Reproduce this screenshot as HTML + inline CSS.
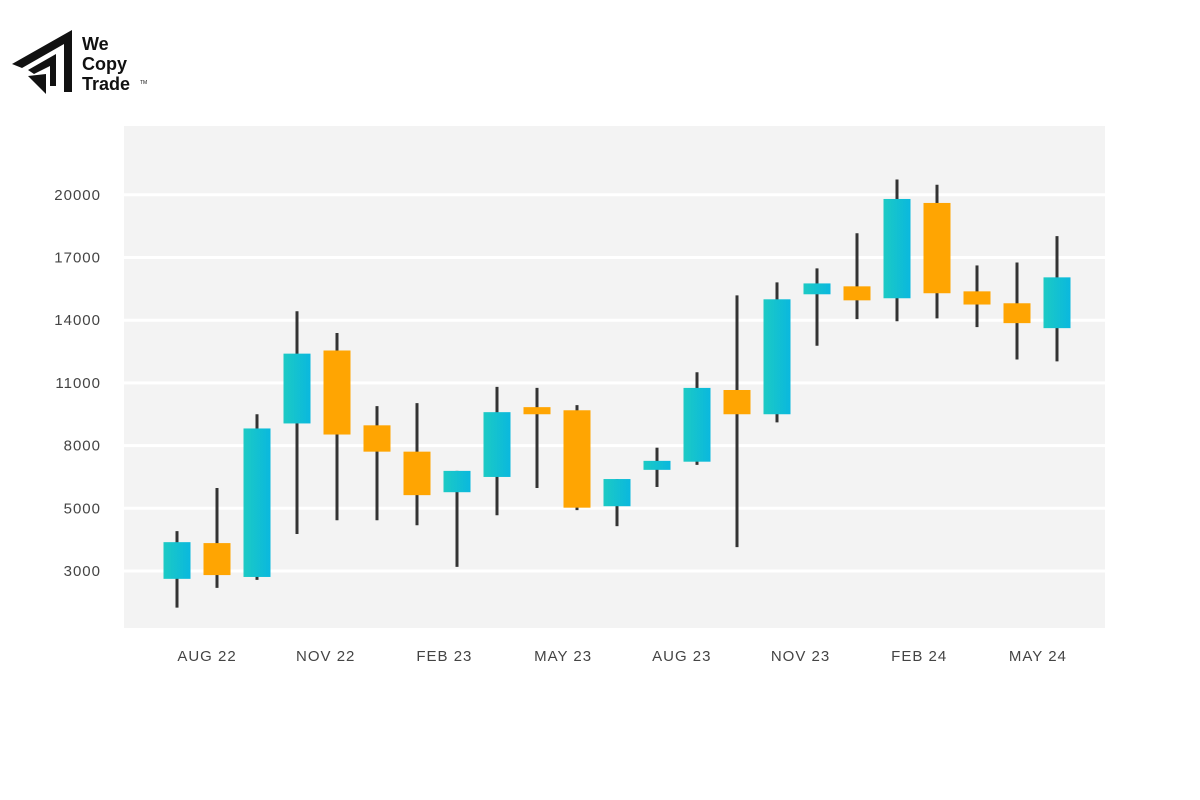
<!DOCTYPE html>
<html><head><meta charset="utf-8"><style>
html,body{margin:0;padding:0;background:#fff;width:1200px;height:800px;overflow:hidden}
svg text{font-family:"Liberation Sans",sans-serif}
</style></head><body>
<svg id="chart" width="1200" height="800" viewBox="0 0 1200 800">
<defs>
<linearGradient id="cy" x1="0" x2="1" y1="0" y2="0"><stop offset="0" stop-color="#1ccac4"/><stop offset="1" stop-color="#0ab8de"/></linearGradient>
</defs>
<g>
<polygon points="12,64 72,30 72,92 64,92 64,44 22,68" fill="#111"/>
<polygon points="28,70 56,54 56,86 50,86 50,66 34,74" fill="#111"/>
<polygon points="28,76 46,74 46,94" fill="#111"/>
<text x="82" y="50" font-size="18" font-weight="bold" fill="#111">We</text>
<text x="82" y="70" font-size="18" font-weight="bold" fill="#111">Copy</text>
<text x="82" y="90" font-size="18" font-weight="bold" fill="#111">Trade</text>
<text x="140" y="84" font-size="5" fill="#111">TM</text>
</g>
<rect x="124" y="126" width="981" height="502" fill="#f3f3f3"/>
<g id="grid"></g><g id="ylab"></g><g id="xlab"></g><g id="candles"></g>
</svg>
<script>
const tickValues=[3000,5000,8000,11000,14000,17000,20000];
const xLabels=["AUG 22","NOV 22","FEB 23","MAY 23","AUG 23","NOV 23","FEB 24","MAY 24"];
const opens=[2750,3890,2810,9060,12550,8970,7710,5770,6500,9840,9690,5100,6840,7230,10660,9500,15240,15620,15050,19610,15380,14810,13620];
const closes=[3920,2870,8820,12400,8530,7710,5630,6790,9600,9500,5030,6400,7270,10760,9500,15000,15760,14950,19800,15290,14750,13860,16050];
const highs=[4270,5970,9500,14430,13390,9890,10030,6790,10810,10760,9935,6400,7900,11510,15190,15810,16480,18160,20730,20480,16620,16760,18020];
const lows=[1830,2460,2715,4180,4620,4620,4460,3130,4780,5970,4940,4430,6020,7080,3760,9110,12780,14050,13950,14090,13670,12120,12030];
const NS="http://www.w3.org/2000/svg";
const yTop=195,yStep=62.7;
function y(v){
  const t=tickValues;
  let i=0;
  if(v<=t[0]) i=0; else if(v>=t[t.length-1]) i=t.length-2; else {while(v>t[i+1])i++;}
  const f=(v-t[i])/(t[i+1]-t[i]);
  return 571-(i+f)*yStep;
}
function x(i){return 177+i*40;}
function mk(tag,attrs,parent){const e=document.createElementNS(NS,tag);for(const k in attrs)e.setAttribute(k,attrs[k]);parent.appendChild(e);return e;}
const grid=document.getElementById('grid'),yl=document.getElementById('ylab'),xl=document.getElementById('xlab'),cg=document.getElementById('candles');
tickValues.forEach(v=>{
  const l=mk('line',{x1:124,x2:1105,y1:y(v),y2:y(v),stroke:'#ffffff','stroke-width':3},grid);
  
  
  const t=mk('text',{x:101,y:y(v)+5,'text-anchor':'end','font-size':15,fill:'#444','letter-spacing':'1'},yl);
  t.textContent=v;
  
  
});
xLabels.forEach((s,i)=>{
  const t=mk('text',{x:207+i*118.7,y:661,'text-anchor':'middle','font-size':15,fill:'#444','letter-spacing':'1'},xl);
  t.textContent=s;
  
  
});
opens.forEach((o,i)=>{
  const c=closes[i],up=c>=o,cx=x(i);
  const g=mk('g',{},cg);
  
  
  mk('line',{x1:cx,x2:cx,y1:y(highs[i]),y2:y(lows[i]),stroke:'#333','stroke-width':3},g);
  const top=y(Math.max(o,c)),bot=y(Math.min(o,c));
  mk('rect',{x:cx-13.5,y:top,width:27,height:Math.max(bot-top,2),fill:up?'url(#cy)':'#ffa502'},g);
});
</script>
</body></html>
